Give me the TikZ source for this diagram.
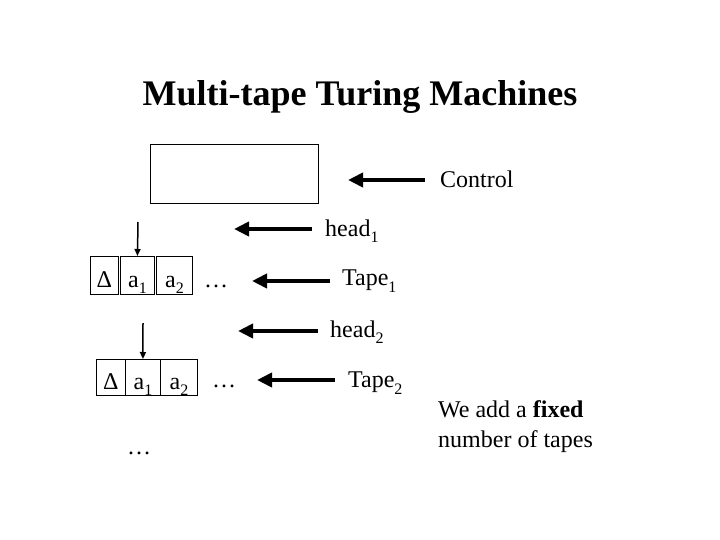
\documentclass[tikz,border=0pt]{standalone}
\usepackage{fontspec}
\setmainfont{Liberation Serif}
\usetikzlibrary{arrows.meta}
\newcommand\mysub[1]{\raisebox{-0.27em}{\fontsize{16}{16}\selectfont #1}}
\tikzset{
  body/.style={font=\fontsize{24}{30}\selectfont, inner sep=0pt},
  label/.style={body, anchor=west},
  cell/.style={draw, line width=0.9pt, inner sep=0pt, anchor=north west, text height=29pt, text depth=5pt, font=\fontsize{24}{30}\selectfont},
  bigarrow/.style={line width=4.5pt, -{Triangle[length=15pt,width=14pt]}},
  pointer/.style={line width=1.5pt, -{Triangle[length=7pt,width=6pt]}},
}
\begin{document}
\begin{tikzpicture}[x=1pt,y=-1pt]
\useasboundingbox (0,0) rectangle (720,540);
% title
\node[inner sep=0pt, anchor=base, font=\fontsize{36}{42}\selectfont\bfseries] (title) at (360,106) {Multi-tape Turing Machines};
% control box
\node[draw, line width=0.9pt, anchor=north west, minimum width=168pt, minimum height=59pt, inner sep=0pt] (ctrl) at (150,144) {};
\node[label] (ctrltxt) at (440,179) {Control};
\coordinate (ctrltail) at (425,180);
\coordinate (ctrltip) at (348,180);
\draw[bigarrow] (ctrltail) -- (ctrltip);
% head 1
\node[label] (h1txt) at (325,231) {head\mysub{1}};
\coordinate (h1tail) at (312,229);
\coordinate (h1tip) at (234,229);
\draw[bigarrow] (h1tail) -- (h1tip);
% tape 1
\node[cell, minimum width=28pt, minimum height=38pt] (t1d) at (90,256) {Δ};
\node[cell, minimum width=34pt, minimum height=38pt] (t1a) at (120,256) {a\mysub{1}};
\node[cell, minimum width=36pt, minimum height=38pt] (t1b) at (156,256) {a\mysub{2}};
\node[body, anchor=west] (t1dots) at (204,286) {…};
\coordinate (p1top) at (138,222);
\draw[pointer] (p1top) -- (t1a.north);
\node[label] (t1txt) at (342,281) {Tape\mysub{1}};
\coordinate (t1tail) at (330,281);
\coordinate (t1tip) at (252,281);
\draw[bigarrow] (t1tail) -- (t1tip);
% head 2
\node[label] (h2txt) at (330,332) {head\mysub{2}};
\coordinate (h2tail) at (318,331);
\coordinate (h2tip) at (238,331);
\draw[bigarrow] (h2tail) -- (h2tip);
% tape 2
\node[cell, minimum width=29pt, minimum height=36pt] (t2d) at (96,359) {Δ};
\node[cell, minimum width=35pt, minimum height=36pt] (t2a) at (125,359) {a\mysub{1}};
\node[cell, minimum width=37pt, minimum height=36pt] (t2b) at (160,359) {a\mysub{2}};
\node[body, anchor=west] (t2dots) at (212,386) {…};
\coordinate (p2top) at (143,323);
\draw[pointer] (p2top) -- (t2a.north);
\node[label] (t2txt) at (348,383) {Tape\mysub{2}};
\coordinate (t2tail) at (335,380);
\coordinate (t2tip) at (257,380);
\draw[bigarrow] (t2tail) -- (t2tip);
% note
\node[body, anchor=north west, align=left] (note) at (438,400) {We add a \textbf{fixed}\\number of tapes};
% bottom dots
\node[body, anchor=west] (bdots) at (127,453) {…};
\end{tikzpicture}
\end{document}
